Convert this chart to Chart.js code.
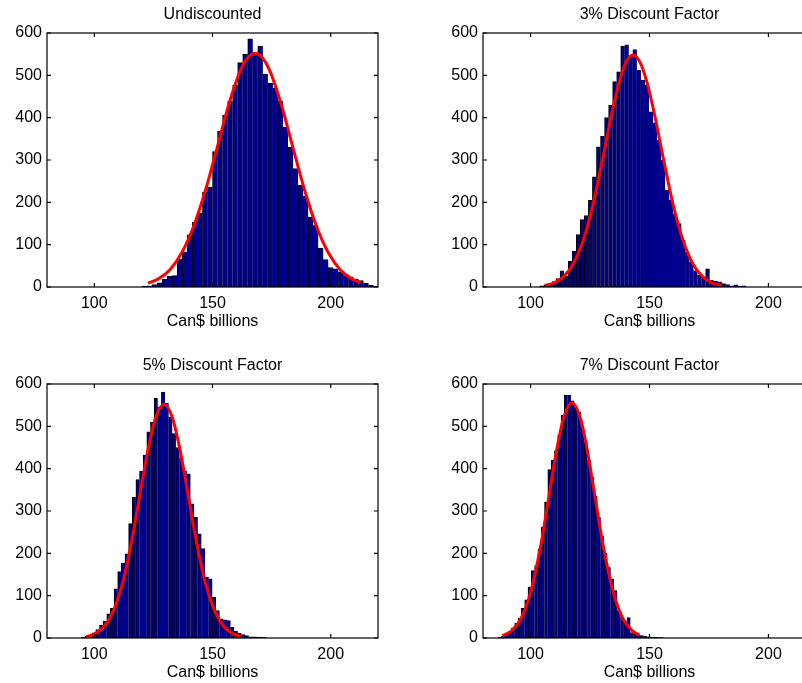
<!DOCTYPE html>
<html>
<head>
<meta charset="utf-8">
<script src="https://cdn.jsdelivr.net/npm/chart.js@4"></script>
<style>
  html, body { margin: 0; padding: 0; background: #fff; overflow: hidden; }
  body { width: 802px; height: 683px; position: relative; }
  canvas { position: absolute; }
</style>
</head>
<body>
<canvas id="undisc" width="400" height="341" style="left:0px;top:0px"></canvas>
<canvas id="disc3" width="402" height="341" style="left:436px;top:0px"></canvas>
<canvas id="disc5" width="400" height="341" style="left:0px;top:351px"></canvas>
<canvas id="disc7" width="402" height="341" style="left:436px;top:351px"></canvas>
<script>
// tick labels shared by all four panels
const xTicks = [100, 150, 200];
const yTicks = [0, 100, 200, 300, 400, 500, 600];

// Undiscounted: histogram bins (start, width) + counts, and fitted curve
const undiscStart = 120.18, undiscWidth = 2.13;
const undiscCounts = [2, 3, 6, 10, 18, 26, 27, 66, 83, 123, 153, 175, 224, 236, 320, 368, 406, 439, 477, 530,
  550, 586, 552, 569, 503, 481, 470, 439, 378, 330, 280, 240, 215, 165, 145, 92, 65, 46, 43, 36,
  30, 24, 19, 15, 9, 4, 2];
const undiscCurveX = [122.7, 127, 132, 137, 142, 147, 152, 157, 162, 165, 168, 171, 174, 179, 184, 189, 194, 199, 204, 209, 212.7];
const undiscCurveY = [9, 19, 41, 81, 143, 228, 330, 433, 514, 542, 552, 542, 514, 433, 330, 228, 143, 81, 41, 19, 10];

// 3% discount factor
const disc3Start = 103.9, disc3Width = 1.70;
const disc3Counts = [3, 5, 8, 13, 20, 38, 25, 61, 85, 124, 159, 169, 205, 260, 331, 356, 400, 429, 485, 508,
  569, 572, 545, 561, 512, 489, 477, 414, 388, 347, 300, 229, 206, 173, 150, 110, 83, 59, 39, 28,
  24, 43, 16, 14, 12, 8, 6, 3, 5, 2, 3];
const disc3CurveX = [106, 110, 114, 118, 122, 126, 130, 134, 137, 140, 143.1, 146.2, 149.2, 152.2, 156.2, 160.2, 164.2, 168.2, 172.2, 176.2, 180.2];
const disc3CurveY = [4, 10, 25, 55, 108, 188, 293, 405, 478, 529, 548, 529, 478, 405, 293, 188, 108, 55, 25, 10, 4];

// 5% discount factor
const disc5Start = 94.5, disc5Width = 1.54;
const disc5Counts = [2, 4, 7, 12, 20, 30, 40, 57, 70, 116, 157, 177, 199, 270, 333, 374, 394, 432, 487, 510,
  566, 545, 581, 555, 522, 483, 450, 425, 395, 388, 317, 285, 246, 211, 144, 140, 96, 65, 45, 43,
  41, 25, 16, 11, 8, 6, 3, 3, 2, 2, 1];
const disc5CurveX = [96.6, 100, 104, 108, 112, 116, 120, 123, 126, 129.5, 133, 136, 139, 143, 147, 151, 155, 159, 162];
const disc5CurveY = [3, 9, 26, 63, 130, 234, 361, 452, 521, 552, 521, 452, 361, 234, 130, 63, 26, 9, 4];

// 7% discount factor
const disc7Start = 86.4, disc7Width = 1.39;
const disc7Counts = [2, 4, 8, 15, 24, 35, 47, 70, 90, 120, 159, 171, 210, 262, 321, 398, 420, 442, 479, 526,
  574, 574, 560, 545, 534, 499, 462, 420, 380, 335, 285, 240, 200, 167, 140, 112, 65, 49, 40, 48,
  13, 9, 8, 6, 4, 3, 2, 2, 1, 1];
const disc7CurveX = [88.2, 92, 96, 100, 104, 108, 111, 114, 117.4, 120.8, 123.8, 126.8, 130.8, 134.8, 138.8, 142.8, 145.8];
const disc7CurveY = [5, 17, 46, 108, 210, 344, 445, 522, 556, 522, 445, 344, 210, 108, 46, 17, 7];

const font = { family: "'Liberation Sans', Arial, sans-serif", size: 16 };

// matlab-style box with inward tick marks on all four sides
const boxTicks = {
  id: 'boxTicks',
  afterDatasetsDraw(chart) {
    const { ctx, chartArea: a, scales: { x, y } } = chart;
    ctx.save();
    ctx.strokeStyle = '#000';
    ctx.lineWidth = 1.2;
    ctx.strokeRect(a.left, a.top, a.right - a.left, a.bottom - a.top);
    ctx.beginPath();
    x.ticks.forEach(t => {
      const px = x.getPixelForValue(t.value);
      ctx.moveTo(px, a.bottom); ctx.lineTo(px, a.bottom - 4);
      ctx.moveTo(px, a.top); ctx.lineTo(px, a.top + 4);
    });
    y.ticks.forEach(t => {
      const py = y.getPixelForValue(t.value);
      ctx.moveTo(a.left, py); ctx.lineTo(a.left + 4, py);
      ctx.moveTo(a.right, py); ctx.lineTo(a.right - 4, py);
    });
    ctx.stroke();
    ctx.restore();
  }
};

function histPanel(id, title, start, width, counts, curveX, curveY) {
  const bars = counts.map((c, i) => ({ x: start + (i + 0.5) * width, y: c }));
  const curve = curveX.map((v, i) => ({ x: v, y: curveY[i] }));
  new Chart(document.getElementById(id), {
    type: 'bar',
    data: {
      datasets: [{
        type: 'line',
        data: curve,
        xAxisID: 'x',
        yAxisID: 'y',
        borderColor: '#ff0000',
        borderWidth: 3,
        pointRadius: 0,
        cubicInterpolationMode: 'monotone',
        fill: false,
        order: 0
      }, {
        type: 'bar',
        data: bars,
        xAxisID: 'x',
        yAxisID: 'y',
        backgroundColor: '#00008f',
        borderColor: '#000',
        borderWidth: { top: 1, left: 1, right: 0, bottom: 0 },
        borderSkipped: 'start',
        barPercentage: 1,
        categoryPercentage: 1,
        order: 1
      }]
    },
    options: {
      responsive: false,
      animation: false,
      layout: { padding: { left: 0, right: 22, top: 0, bottom: 0 } },
      plugins: {
        legend: { display: false },
        tooltip: { enabled: false }
      },
      scales: {
        x: {
          type: 'linear', min: 80, max: 220, offset: false,
          grid: { display: false, drawTicks: false, offset: false },
          border: { display: false },
          afterBuildTicks: s => { s.ticks = xTicks.map(v => ({ value: v })); },
          afterFit: s => { s.height = 54; },
          ticks: { color: '#000', font, padding: 7, maxRotation: 0, autoSkip: false },
          title: { display: true, text: 'Can$ billions', color: '#000', font, padding: { top: 0, bottom: 9.4 } }
        },
        // top axis only carries the panel title, centred over the plot box
        top: {
          type: 'linear', position: 'top', min: 80, max: 220, offset: false,
          grid: { display: false, drawTicks: false, offset: false },
          border: { display: false },
          ticks: { display: false },
          afterFit: s => { s.height = 33; },
          title: { display: true, text: title, color: '#000', font, padding: { top: 5.4, bottom: 0 } }
        },
        y: {
          min: 0, max: 600,
          grid: { display: false, drawTicks: false },
          border: { display: false },
          afterBuildTicks: s => { s.ticks = yTicks.map(v => ({ value: v })); },
          afterFit: s => { s.width = 47; },
          ticks: { color: '#000', font, padding: 5 }
        }
      }
    },
    plugins: [boxTicks]
  });
}

histPanel('undisc', 'Undiscounted', undiscStart, undiscWidth, undiscCounts, undiscCurveX, undiscCurveY);
histPanel('disc3', '3% Discount Factor', disc3Start, disc3Width, disc3Counts, disc3CurveX, disc3CurveY);
histPanel('disc5', '5% Discount Factor', disc5Start, disc5Width, disc5Counts, disc5CurveX, disc5CurveY);
histPanel('disc7', '7% Discount Factor', disc7Start, disc7Width, disc7Counts, disc7CurveX, disc7CurveY);
</script>
</body>
</html>
